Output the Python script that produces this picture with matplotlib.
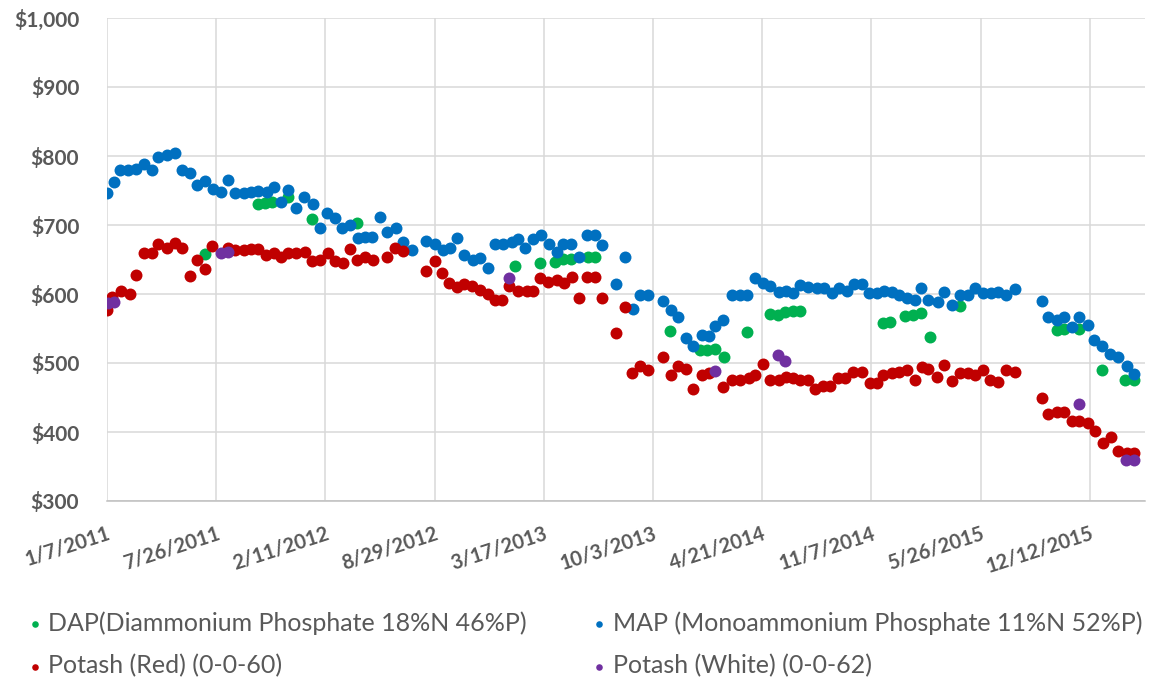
import numpy as np
import pandas as pd
import matplotlib
matplotlib.use("Agg")
import matplotlib.pyplot as plt

plt.rcParams['font.family'] = ['Lato', 'DejaVu Sans']

start = pd.Timestamp('2011-01-07')

# days since 1/7/2011 and price ($/ton)
dap_days = [180, 276, 289, 302, 332, 375, 458, 747, 793, 820, 835, 850, 880, 894,
            1031, 1086, 1098, 1113, 1130, 1172, 1214, 1228, 1242, 1256, 1269,
            1422, 1434, 1462, 1477, 1490, 1507, 1562, 1739, 1753, 1781, 1822, 1865, 1880]
dap_price = [658, 731, 732, 734, 741, 708, 703, 641, 645, 647, 651, 651, 654, 654,
             547, 519, 519, 520, 508, 545, 571, 570, 574, 576, 576,
             558, 560, 568, 570, 573, 538, 582, 548, 549, 550, 490, 476, 476]

map_days = [0, 12, 24, 39, 54, 67, 82, 94, 109, 125, 137, 152, 164, 180, 195, 209, 221,
            234, 250, 264, 277, 293, 305, 318, 331, 347, 361, 377, 390, 402, 418, 430,
            445, 460, 473, 485, 500, 513, 529, 543, 558, 584, 601, 615, 628, 641, 654,
            670, 683, 697, 711, 726, 741, 753, 766, 781, 794, 810, 824, 836, 849, 865,
            879, 894, 906, 932, 949, 963, 976, 991, 1019, 1032, 1046, 1060, 1074, 1089,
            1103, 1114, 1129, 1144, 1159, 1172, 1187, 1202, 1214, 1230, 1244, 1257, 1269,
            1284, 1300, 1313, 1327, 1341, 1355, 1368, 1382, 1396, 1411, 1423, 1437, 1451,
            1465, 1480, 1490, 1504, 1521, 1533, 1547, 1562, 1576, 1590, 1605, 1619, 1632,
            1647, 1663, 1712, 1724, 1739, 1753, 1767, 1781, 1797, 1808, 1822, 1837, 1852,
            1868, 1880]
map_price = [747, 763, 779, 779, 781, 789, 780, 798, 801, 804, 779, 775, 758, 764, 752,
             748, 765, 746, 746, 748, 750, 748, 755, 734, 751, 724, 740, 731, 695, 717,
             710, 695, 700, 681, 682, 682, 711, 690, 696, 676, 664, 677, 673, 664, 666,
             681, 657, 649, 652, 637, 672, 672, 676, 679, 666, 679, 686, 673, 661, 672,
             672, 654, 686, 686, 671, 614, 654, 578, 599, 599, 590, 577, 566, 536, 525,
             541, 539, 553, 563, 599, 599, 599, 623, 616, 611, 603, 605, 601, 613, 610,
             608, 608, 602, 608, 605, 614, 614, 602, 601, 605, 603, 599, 594, 592, 608,
             591, 589, 603, 584, 599, 599, 608, 602, 601, 603, 599, 607, 590, 566, 563,
             566, 552, 566, 555, 534, 524, 513, 508, 496, 484]

red_days = [0, 9, 26, 42, 53, 67, 82, 94, 109, 125, 138, 152, 164, 180, 192, 221, 234,
            250, 264, 276, 291, 305, 319, 332, 347, 363, 375, 390, 404, 418, 432, 445,
            458, 473, 487, 512, 528, 543, 584, 600, 613, 627, 641, 654, 668, 683, 697,
            711, 723, 737, 753, 769, 781, 793, 808, 824, 837, 851, 865, 879, 894, 906,
            932, 949, 961, 976, 991, 1019, 1032, 1046, 1060, 1074, 1089, 1103, 1129,
            1144, 1159, 1175, 1187, 1201, 1214, 1230, 1244, 1257, 1269, 1283, 1297,
            1311, 1324, 1338, 1352, 1367, 1382, 1397, 1410, 1422, 1437, 1451, 1465,
            1480, 1492, 1504, 1520, 1533, 1547, 1562, 1576, 1590, 1605, 1617, 1632,
            1647, 1663, 1712, 1724, 1739, 1753, 1767, 1781, 1797, 1810, 1824, 1838,
            1852, 1868, 1881]
red_price = [577, 596, 605, 600, 627, 659, 659, 672, 666, 674, 666, 626, 650, 636, 669,
             666, 664, 664, 665, 665, 657, 659, 653, 659, 659, 661, 648, 650, 660, 648,
             645, 665, 649, 653, 650, 654, 666, 663, 634, 648, 630, 616, 610, 614, 612,
             606, 600, 592, 592, 612, 605, 605, 605, 623, 618, 620, 616, 624, 594, 624,
             624, 594, 544, 581, 486, 496, 490, 509, 483, 496, 492, 463, 483, 485, 465,
             476, 476, 478, 483, 499, 476, 476, 480, 478, 476, 476, 462, 466, 467, 478,
             478, 487, 487, 471, 471, 483, 486, 487, 490, 476, 494, 492, 480, 497, 474,
             485, 485, 483, 490, 475, 473, 490, 487, 449, 426, 429, 429, 416, 416, 413,
             402, 384, 393, 373, 370, 370]

white_days = [2, 12, 209, 221, 737, 1113, 1228, 1242, 1781, 1866, 1880]
white_price = [587, 589, 659, 661, 623, 489, 512, 503, 441, 359, 359]

series = [
    ('DAP(Diammonium Phosphate 18%N 46%P)', dap_days, dap_price, '#00B050'),
    ('MAP (Monoammonium Phosphate 11%N 52%P)', map_days, map_price, '#0070C0'),
    ('Potash (Red) (0-0-60)', red_days, red_price, '#C00000'),
    ('Potash (White) (0-0-62)', white_days, white_price, '#7030A0'),
]

tick_dates = pd.date_range(start, periods=10, freq='200D')
tick_labels = [f"{d.month}/{d.day}/{d.year}" for d in tick_dates]

fig = plt.figure(figsize=(11.55, 6.85), dpi=100)
ax = fig.add_axes([107 / 1155, 1 - 501 / 685, (1145 - 107) / 1155, (501 - 18) / 685])

handles = []
for name, days, price, col in series:
    dates = start + pd.to_timedelta(days, unit='D')
    h = ax.scatter(dates, price, s=74, color=col, label=name, linewidths=0, zorder=3)
    handles.append(h)

ax.set_ylim(300, 1000)
ax.set_yticks(np.arange(300, 1001, 100))
ax.set_yticklabels([f"${v:,}" for v in range(300, 1001, 100)])
ax.set_xlim(start, start + pd.Timedelta(days=1901))
ax.set_xticks(tick_dates)
ax.set_xticklabels(tick_labels, rotation=18, ha='right', rotation_mode='anchor')

ax.grid(True, color='#D9D9D9', linewidth=1.1, zorder=0)
for s in ['top', 'right', 'left']:
    ax.spines[s].set_visible(False)
ax.spines['bottom'].set_color('#BFBFBF')
ax.spines['bottom'].set_linewidth(1.1)
ax.tick_params(length=0, colors='#595959')
ax.tick_params(axis='y', pad=20, labelsize=15)
ax.tick_params(axis='x', pad=16, labelsize=14.5)
for lab in ax.get_xticklabels() + ax.get_yticklabels():
    lab.set_fontweight('bold')

order = [0, 2, 1, 3]
fig.legend([handles[i] for i in order], [series[i][0] for i in order],
           loc='upper left', bbox_to_anchor=(27 / 1155, 1 - 611 / 685), ncol=2,
           frameon=False, fontsize=18, labelcolor='#595959',
           markerscale=0.55, handletextpad=0.25, handlelength=0.6,
           borderpad=0, borderaxespad=0, columnspacing=2.6, labelspacing=0.78)

fig.savefig('out.png', dpi=100)
